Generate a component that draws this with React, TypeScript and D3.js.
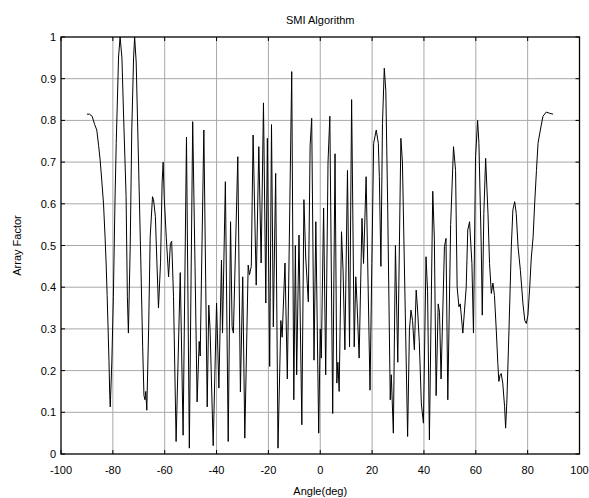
import React from "react";
import * as d3 from "d3";

const angles: number[] = [
  -90.0, -89.0, -88.0, -87.0, -86.2, -85.5, -84.9, -84.2, -83.6, -83.0, -82.6, -82.2, -81.9, -81.5, -81.2, -81.0,
  -80.4, -79.8, -79.2, -78.7, -77.8, -77.2, -76.5, -75.9, -74.9, -74.4, -74.0, -73.3, -72.7, -72.0, -71.6, -71.0,
  -70.1, -69.2, -68.5, -68.0, -67.6, -67.3, -66.9, -66.2, -65.6, -64.7, -64.3, -63.6, -63.0, -62.4, -61.6, -61.0,
  -60.6, -60.2, -59.4, -58.5, -57.8, -57.3, -56.6, -55.6, -54.0, -52.9, -51.6, -50.5, -49.2, -48.3, -47.5, -46.7,
  -46.3, -44.9, -43.6, -43.0, -42.5, -41.3, -40.0, -39.1, -38.1, -37.7, -36.6, -35.5, -34.6, -34.0, -33.5, -31.8,
  -30.8, -29.9, -29.1, -27.8, -27.3, -26.6, -25.9, -24.7, -23.7, -22.8, -21.9, -21.0, -20.4, -19.5, -18.8, -18.1,
  -17.2, -16.3, -15.2, -14.7, -13.6, -12.7, -11.0, -10.2, -9.6, -9.1, -8.2, -7.1, -6.3, -5.6, -4.6, -3.9,
  -3.3, -2.4, -1.7, -0.6, 0.0, 0.4, 1.3, 2.1, 3.0, 3.7, 4.8, 5.7, 6.4, 6.8, 7.3, 8.2,
  8.8, 9.5, 10.5, 11.3, 12.1, 13.1, 13.7, 14.2, 15.0, 16.1, 16.7, 17.7, 19.2, 19.9, 20.6, 21.6,
  22.4, 22.8, 23.4, 24.0, 24.7, 25.3, 26.0, 27.0, 27.4, 28.2, 29.0, 29.9, 31.1, 31.7, 32.4, 33.7,
  34.4, 35.0, 35.6, 36.3, 37.0, 37.5, 38.2, 39.0, 39.8, 40.8, 41.4, 42.1, 43.4, 44.0, 44.7, 45.5,
  46.0, 46.6, 47.9, 48.5, 49.2, 50.3, 51.4, 52.2, 52.8, 53.5, 54.0, 55.0, 56.3, 56.9, 57.6, 58.5,
  59.1, 59.9, 60.7, 61.2, 62.1, 62.5, 63.1, 63.8, 64.7, 65.3, 66.0, 66.6, 67.2, 67.9, 68.5, 68.9,
  69.4, 69.8, 70.4, 71.1, 71.5, 72.0, 72.8, 73.7, 74.3, 75.0, 75.6, 76.3, 77.2, 78.2, 78.9, 79.5,
  80.1, 80.8, 81.4, 82.1, 82.7, 83.4, 84.0, 84.9, 85.9, 87.2, 88.5, 89.8,
];

const arrayFactor: number[] = [
  0.815, 0.815, 0.81, 0.79, 0.777, 0.74, 0.705, 0.65, 0.6, 0.52, 0.458, 0.38, 0.314, 0.225, 0.14, 0.113,
  0.22, 0.377, 0.6, 0.745, 0.952, 1.0, 0.95, 0.82, 0.62, 0.377, 0.29, 0.5, 0.777, 0.95, 1.0, 0.94,
  0.7, 0.458, 0.257, 0.14, 0.13, 0.15, 0.105, 0.3, 0.52, 0.617, 0.61, 0.57, 0.458, 0.35, 0.46, 0.65,
  0.7, 0.617, 0.52, 0.425, 0.505, 0.51, 0.377, 0.03, 0.435, 0.045, 0.76, 0.014, 0.797, 0.45, 0.125, 0.27,
  0.235, 0.777, 0.113, 0.357, 0.3, 0.02, 0.362, 0.158, 0.465, 0.29, 0.653, 0.03, 0.557, 0.305, 0.29, 0.713,
  0.149, 0.425, 0.038, 0.453, 0.43, 0.45, 0.765, 0.405, 0.737, 0.458, 0.842, 0.362, 0.757, 0.21, 0.79, 0.305,
  0.673, 0.014, 0.32, 0.28, 0.458, 0.18, 0.917, 0.13, 0.5, 0.19, 0.525, 0.07, 0.61, 0.47, 0.365, 0.74,
  0.805, 0.225, 0.557, 0.05, 0.3, 0.23, 0.59, 0.19, 0.7, 0.81, 0.097, 0.72, 0.17, 0.22, 0.15, 0.533,
  0.44, 0.25, 0.68, 0.257, 0.85, 0.257, 0.425, 0.36, 0.23, 0.565, 0.457, 0.665, 0.153, 0.457, 0.745, 0.777,
  0.745, 0.665, 0.45, 0.793, 0.925, 0.87, 0.6, 0.13, 0.19, 0.05, 0.5, 0.22, 0.757, 0.7, 0.47, 0.042,
  0.297, 0.345, 0.32, 0.25, 0.393, 0.35, 0.27, 0.12, 0.074, 0.473, 0.39, 0.034, 0.63, 0.52, 0.14, 0.36,
  0.34, 0.18, 0.497, 0.517, 0.13, 0.55, 0.737, 0.68, 0.4, 0.353, 0.36, 0.29, 0.4, 0.537, 0.557, 0.457,
  0.29, 0.713, 0.8, 0.745, 0.497, 0.333, 0.577, 0.709, 0.577, 0.457, 0.385, 0.41, 0.38, 0.297, 0.217, 0.174,
  0.19, 0.193, 0.17, 0.114, 0.062, 0.13, 0.297, 0.497, 0.585, 0.605, 0.577, 0.497, 0.44, 0.36, 0.32, 0.313,
  0.333, 0.4, 0.47, 0.52, 0.6, 0.68, 0.745, 0.777, 0.81, 0.82, 0.817, 0.815,
];

const xTicks: number[] = [-100, -80, -60, -40, -20, 0, 20, 40, 60, 80, 100];
const yTicks: number[] = [0, 0.1, 0.2, 0.3, 0.4, 0.5, 0.6, 0.7, 0.8, 0.9, 1];

const title = "SMI Algorithm";
const xLabel = "Angle(deg)";
const yLabel = "Array Factor";

const W = 589;
const H = 498;
const L = 61;
const R = 579.5;
const T = 37;
const B = 454;
const FONT = "'Liberation Sans', Arial, Helvetica, sans-serif";

export default function App() {
  const x = d3.scaleLinear().domain([-100, 100]).range([L, R]);
  const y = d3.scaleLinear().domain([0, 1]).range([B, T]);
  const pts: [number, number][] = angles.map((a, i) => [a, arrayFactor[i]]);
  const line = d3
    .line<[number, number]>()
    .x((d) => x(d[0]))
    .y((d) => y(d[1]));
  const tick = 4;
  return (
    <div style={{ position: "absolute", left: 0, top: 0, width: W, height: H, overflow: "hidden", background: "#fff" }}>
      <svg width={W} height={H} style={{ display: "block" }}>
        <rect x={0} y={0} width={W} height={H} fill="#fff" />
        {/* grid */}
        {xTicks.slice(1, -1).map((t) => (
          <line key={"gx" + t} x1={x(t)} x2={x(t)} y1={T} y2={B} stroke="#a8a8a8" strokeWidth={1} />
        ))}
        {yTicks.slice(1, -1).map((t) => (
          <line key={"gy" + t} x1={L} x2={R} y1={y(t)} y2={y(t)} stroke="#a8a8a8" strokeWidth={1} />
        ))}
        {/* curve */}
        <defs>
          <clipPath id="plotclip">
            <rect x={L} y={T} width={R - L} height={B - T} />
          </clipPath>
        </defs>
        <path d={line(pts) || ""} fill="none" stroke="#000" strokeWidth={1} clipPath="url(#plotclip)" />
        {/* ticks */}
        {xTicks.map((t) => (
          <g key={"tx" + t}>
            <line x1={x(t)} x2={x(t)} y1={B} y2={B - tick} stroke="#000" />
            <line x1={x(t)} x2={x(t)} y1={T} y2={T + tick} stroke="#000" />
            <text x={x(t)} y={474} textAnchor="middle" fontFamily={FONT} fontSize={11} fill="#000">
              {t}
            </text>
          </g>
        ))}
        {yTicks.map((t) => (
          <g key={"ty" + t}>
            <line x1={L} x2={L + tick} y1={y(t)} y2={y(t)} stroke="#000" />
            <line x1={R} x2={R - tick} y1={y(t)} y2={y(t)} stroke="#000" />
            <text x={56} y={y(t) + 4} textAnchor="end" fontFamily={FONT} fontSize={11} fill="#000">
              {t}
            </text>
          </g>
        ))}
        {/* axes box */}
        <rect x={L} y={T} width={R - L} height={B - T} fill="none" stroke="#000" strokeWidth={1.3} />
        <text x={(L + R) / 2} y={24} textAnchor="middle" fontFamily={FONT} fontSize={11} fill="#000">
          {title}
        </text>
        <text x={(L + R) / 2} y={495} textAnchor="middle" fontFamily={FONT} fontSize={11} fill="#000">
          {xLabel}
        </text>
        <text
          transform={`translate(21, ${(T + B) / 2}) rotate(-90)`}
          textAnchor="middle"
          fontFamily={FONT}
          fontSize={11}
          fill="#000"
        >
          {yLabel}
        </text>
      </svg>
    </div>
  );
}
